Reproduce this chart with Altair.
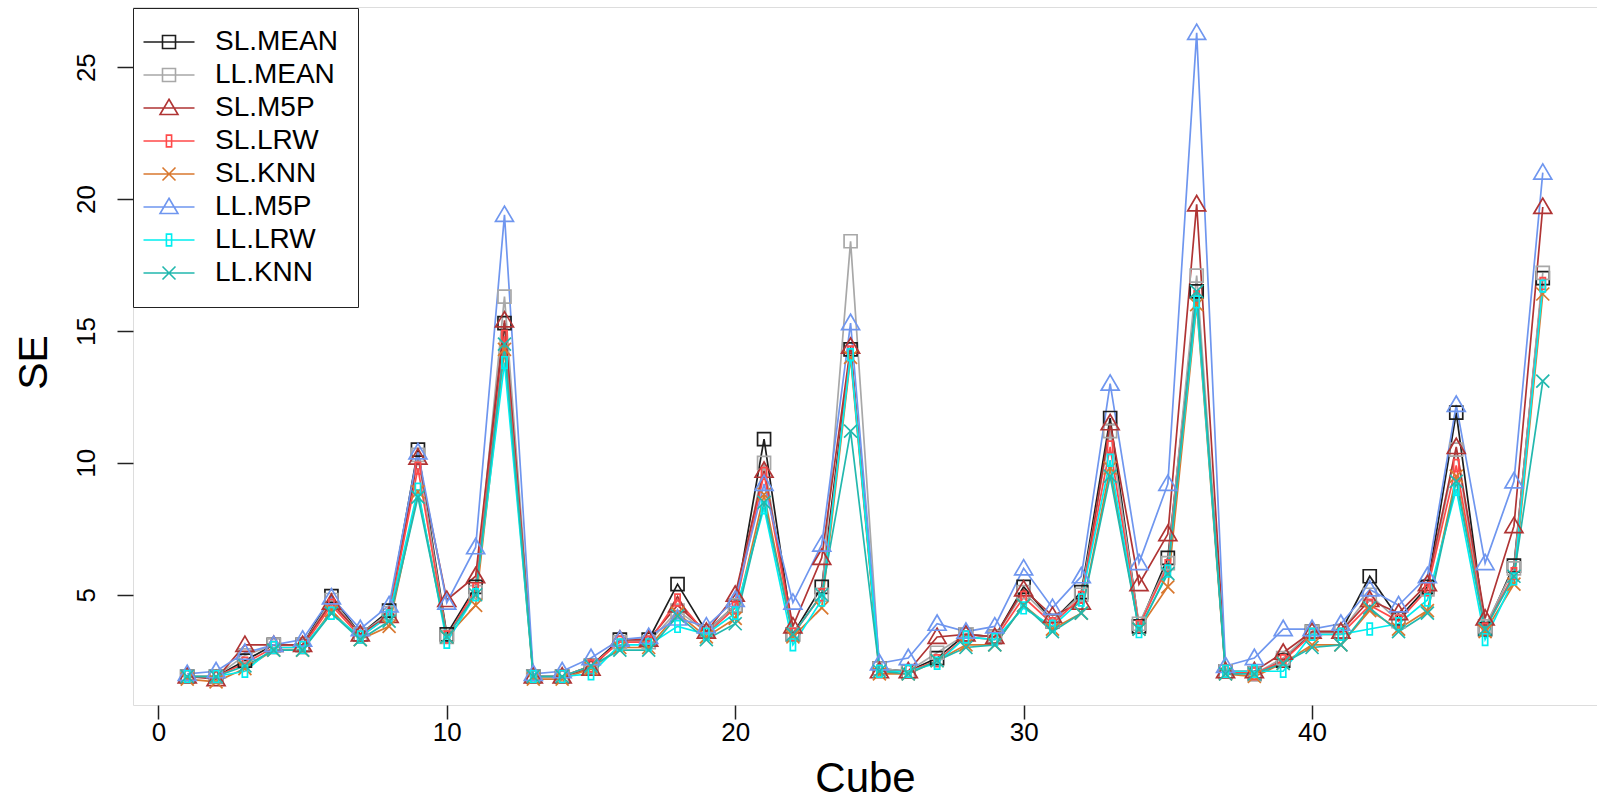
import altair as alt
import pandas as pd

cubes = list(range(1, 49))
series_names = ["SL.MEAN", "LL.MEAN", "SL.M5P", "SL.LRW", "SL.KNN", "LL.M5P", "LL.LRW", "LL.KNN"]
series_colors = ["#1e1e1e", "#a8a8a8", "#b03434", "#ff4a4a", "#d9782f", "#6f96ef", "#00eef0", "#22b8ae"]

sl_mean = [1.9, 1.9, 2.5, 3.1, 3.1, 4.95, 3.5, 4.4, 10.5, 3.5, 5.3, 15.3, 1.9, 1.9, 2.3, 3.3, 3.3, 5.4, 3.6, 4.6,
           10.9, 3.5, 5.3, 14.3, 2.2, 2.1, 2.6, 3.5, 3.4, 5.3, 4.0, 5.1, 11.7, 3.8, 6.4, 16.5, 2.1, 2.0, 2.5, 3.6,
           3.6, 5.7, 4.1, 5.3, 11.9, 3.7, 6.1, 17.0]
ll_mean = [1.9, 1.9, 2.7, 3.1, 3.1, 4.8, 3.5, 4.3, 10.3, 3.4, 5.1, 16.3, 1.9, 1.9, 2.3, 3.2, 3.2, 4.4, 3.6, 4.6,
           10.0, 3.5, 5.0, 18.4, 2.2, 2.1, 2.8, 3.5, 3.4, 5.1, 4.0, 5.0, 11.2, 3.9, 6.2, 17.1, 2.1, 2.0, 2.6, 3.6,
           3.6, 5.0, 4.0, 5.2, 10.5, 3.8, 6.0, 17.2]
sl_m5p = [1.9, 1.8, 3.1, 3.1, 3.1, 4.7, 3.5, 4.2, 10.2, 4.8, 5.7, 15.4, 1.9, 1.9, 2.2, 3.3, 3.3, 4.6, 3.6, 5.0,
          9.7, 3.8, 6.4, 14.4, 2.1, 2.1, 3.4, 3.5, 3.4, 5.2, 4.2, 4.7, 11.5, 5.4, 7.3, 19.8, 2.1, 2.1, 2.8, 3.6,
          3.6, 4.8, 4.3, 5.4, 10.6, 4.1, 7.6, 19.7]
sl_lrw = [1.9, 1.9, 2.4, 3.0, 3.0, 4.6, 3.4, 4.2, 9.8, 3.4, 5.2, 14.8, 1.9, 1.9, 2.3, 3.2, 3.2, 4.8, 3.5, 4.5,
          9.6, 3.5, 5.0, 14.2, 2.1, 2.1, 2.5, 3.4, 3.3, 4.9, 3.9, 4.9, 10.6, 3.8, 6.1, 16.3, 2.1, 2.0, 2.5, 3.5,
          3.5, 4.6, 4.0, 5.2, 9.9, 3.7, 5.8, 16.8]
sl_knn = [1.8, 1.7, 2.2, 2.9, 2.9, 4.4, 3.3, 3.8, 8.9, 3.4, 4.6, 14.3, 1.8, 1.8, 2.2, 3.0, 3.0, 4.3, 3.4, 4.1,
          8.8, 3.4, 4.5, 14.0, 2.0, 2.0, 2.5, 3.1, 3.1, 4.6, 3.7, 4.3, 9.8, 3.7, 5.3, 16.0, 2.0, 1.9, 2.4, 3.1,
          3.1, 4.4, 3.7, 4.4, 9.5, 3.6, 5.4, 16.4]
ll_m5p = [2.0, 2.1, 2.8, 3.1, 3.3, 4.9, 3.7, 4.6, 10.4, 4.7, 6.8, 19.4, 2.0, 2.1, 2.6, 3.3, 3.4, 4.1, 3.8, 4.8,
          9.2, 4.7, 6.9, 15.3, 2.4, 2.6, 3.9, 3.6, 3.8, 6.0, 4.5, 5.7, 13.0, 6.2, 9.2, 26.3, 2.3, 2.6, 3.7, 3.7,
          3.9, 5.2, 4.6, 5.7, 12.2, 6.2, 9.3, 21.0]
ll_lrw = [1.9, 1.9, 2.1, 3.0, 3.0, 4.3, 3.4, 4.2, 9.0, 3.2, 5.0, 13.8, 1.9, 1.9, 2.0, 3.1, 3.1, 3.8, 3.5, 4.3,
          8.3, 3.1, 4.8, 14.1, 2.1, 2.1, 2.4, 3.4, 3.3, 4.5, 3.8, 4.8, 10.1, 3.6, 5.9, 16.1, 2.1, 2.1, 2.1, 3.5,
          3.5, 3.7, 3.9, 4.8, 9.0, 3.3, 5.6, 16.7]
ll_knn = [1.9, 1.9, 2.3, 2.9, 2.9, 4.3, 3.3, 4.0, 8.7, 3.4, 5.0, 14.5, 1.9, 1.9, 2.3, 2.9, 2.9, 4.2, 3.3, 3.9,
          8.5, 3.5, 5.0, 11.2, 2.1, 2.0, 2.5, 3.0, 3.1, 4.6, 3.6, 4.3, 9.5, 3.7, 5.8, 16.5, 2.0, 2.0, 2.4, 3.0,
          3.1, 4.5, 3.6, 4.3, 9.3, 3.7, 5.7, 13.1]

all_series = [sl_mean, ll_mean, sl_m5p, sl_lrw, sl_knn, ll_m5p, ll_lrw, ll_knn]
x_ticks = [0, 10, 20, 30, 40]
y_ticks = [5, 10, 15, 20, 25]

# marker shapes (unit paths) for the plot, and legend versions with a line through them
SQ = "M-1,-1H1V1H-1Z"
TRI = "M0,-1.35L1.38,1H-1.38Z"
RECT = "M-0.4,-0.9H0.4V0.9H-0.4Z"
XX = "M-1,-1L1,1M-1,1L1,-1"
plot_shapes = [SQ, SQ, TRI, RECT, XX, TRI, RECT, XX]


def legend_path(p, k=0.65, half=2.55):
    out = []
    num = ""
    for ch in p:
        if ch in "0123456789.-" and not (ch == "-" and num):
            num += ch
        else:
            if num:
                out.append(f"{float(num) * k:.3f}")
                num = ""
            out.append(ch)
    if num:
        out.append(f"{float(num) * k:.3f}")
    return f"M{-half},0H{half}" + "".join(out)


legend_shapes = [legend_path(p) for p in plot_shapes]

rows = []
for name, vals in zip(series_names, all_series):
    for c, v in zip(cubes, vals):
        rows.append({"Cube": c, "SE": v, "series": name})
df = pd.DataFrame(rows)

FONT = "Liberation Sans"

x_enc = alt.X(
    "Cube:Q",
    scale=alt.Scale(domain=[-0.88, 49.88], nice=False, zero=False),
    axis=alt.Axis(values=x_ticks, grid=False, domain=False, tickSize=14, tickWidth=1.5, tickColor="#222",
                  labelFont=FONT, labelFontSize=26, labelColor="black", labelPadding=0, labelFlush=False,
                  title="Cube", titleFont=FONT, titleFontSize=42, titleFontWeight="normal", titleColor="black",
                  titleBaseline="alphabetic", titleY=86),
)
y_enc = alt.Y(
    "SE:Q",
    scale=alt.Scale(domain=[0.82, 27.28], nice=False, zero=False),
    axis=alt.Axis(values=y_ticks, grid=False, domain=False, tickSize=16, tickWidth=1.5, tickColor="#222",
                  labelFont=FONT, labelFontSize=26, labelColor="black", labelAngle=270, labelAlign="center",
                  labelBaseline="bottom", labelPadding=18,
                  title="SE", titleFont=FONT, titleFontSize=41, titleFontWeight="normal", titleColor="black",
                  titleAngle=270, titleAlign="center", titleBaseline="top", titleX=-119, titleY=355),
)

base = alt.Chart(df)

lines = base.mark_line(strokeWidth=1.7).encode(
    x=x_enc, y=y_enc,
    color=alt.Color("series:N", scale=alt.Scale(domain=series_names, range=series_colors), legend=None),
)

points = base.mark_point(filled=False, size=169, strokeWidth=1.7, opacity=1).encode(
    x=x_enc, y=y_enc,
    color=alt.Color("series:N", scale=alt.Scale(domain=series_names, range=series_colors), legend=None),
    shape=alt.Shape("series:N", scale=alt.Scale(domain=series_names, range=plot_shapes), legend=None),
)

leg = alt.Legend(title=None, orient="none", legendX=0, legendY=1, direction="vertical",
                 padding=20, strokeColor="#222", fillColor="white", cornerRadius=0,
                 labelFont=FONT, labelFontSize=28, labelColor="black", labelLimit=400,
                 symbolSize=400, symbolStrokeWidth=1.6, symbolOffset=2, labelOffset=32, rowPadding=5)

legend_layer = base.mark_point(filled=False, size=400, strokeWidth=1.6, opacity=0).encode(
    x=x_enc, y=y_enc,
    color=alt.Color("series:N", scale=alt.Scale(domain=series_names, range=series_colors), legend=leg),
    shape=alt.Shape("series:N", scale=alt.Scale(domain=series_names, range=legend_shapes), legend=leg),
)

chart = alt.layer(lines, points, legend_layer).resolve_scale(
    color="independent", shape="independent"
).properties(
    width=1464, height=698,
    autosize=alt.AutoSizeParams(type="none"),
    padding={"left": 133, "top": 7, "right": 0, "bottom": 96},
).configure_view(stroke="#333", strokeWidth=1.5).configure(background="white")

chart.save("out.html", embed_options={"renderer": "svg", "actions": False})
